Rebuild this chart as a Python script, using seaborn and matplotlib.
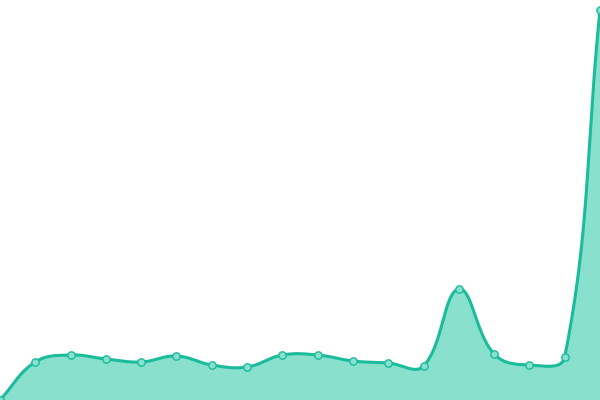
import matplotlib
matplotlib.use("Agg")
import matplotlib.pyplot as plt
import seaborn as sns
import numpy as np
import pandas as pd

# values, one per point, evenly spaced
idx = list(range(18))
vals = [0, 38, 45, 41, 38, 44, 35, 33, 45, 45, 39, 37, 34, 111, 46, 35, 43, 390]

line_col = "#1abc9c"
fill_col = "#88e0cd"

W, H = 600, 400


def spline(px, py, tension=0.4, steps=40):
    # tension spline through the points, built in pixel space
    pts = np.column_stack([px, py]).astype(float)
    n = len(pts)
    before, after = [], []
    for i in range(n):
        prev = pts[i - 1] if i > 0 else pts[i]
        nxt = pts[i + 1] if i < n - 1 else pts[i]
        d01 = np.hypot(*(pts[i] - prev))
        d12 = np.hypot(*(nxt - pts[i]))
        tot = d01 + d12
        s01 = d01 / tot if tot else 0
        s12 = d12 / tot if tot else 0
        before.append(pts[i] - tension * s01 * (nxt - prev))
        after.append(pts[i] + tension * s12 * (nxt - prev))
    out = []
    t = np.linspace(0, 1, steps, endpoint=False)[:, None]
    for i in range(n - 1):
        p1, c1, c2, p2 = pts[i], after[i], before[i + 1], pts[i + 1]
        out.append(((1 - t) ** 3) * p1 + 3 * ((1 - t) ** 2) * t * c1
                   + 3 * (1 - t) * t**2 * c2 + t**3 * p2)
    out.append(pts[-1:])
    return np.vstack(out)


df = pd.DataFrame({"x": idx, "y": vals})
df["px"] = df["x"] * W / (len(idx) - 1)
curve = spline(df["px"], df["y"])
smooth = pd.DataFrame({"px": curve[:, 0], "y": curve[:, 1]})

sns.set_style("white")
fig = plt.figure(figsize=(6, 4), dpi=100)
ax = fig.add_axes([0, 0, 1, 1])

ax.fill_between(smooth["px"], smooth["y"], 0, color=fill_col, linewidth=0)
sns.lineplot(data=smooth, x="px", y="y", ax=ax, color=line_col, linewidth=2.2, sort=False)
sns.scatterplot(data=df, x="px", y="y", ax=ax, color=fill_col, edgecolor=line_col,
                linewidth=1, s=28, zorder=5)

ax.set_xlim(0, W)
ax.set_ylim(0, H)
ax.axis("off")

fig.savefig("out.png", dpi=100)
